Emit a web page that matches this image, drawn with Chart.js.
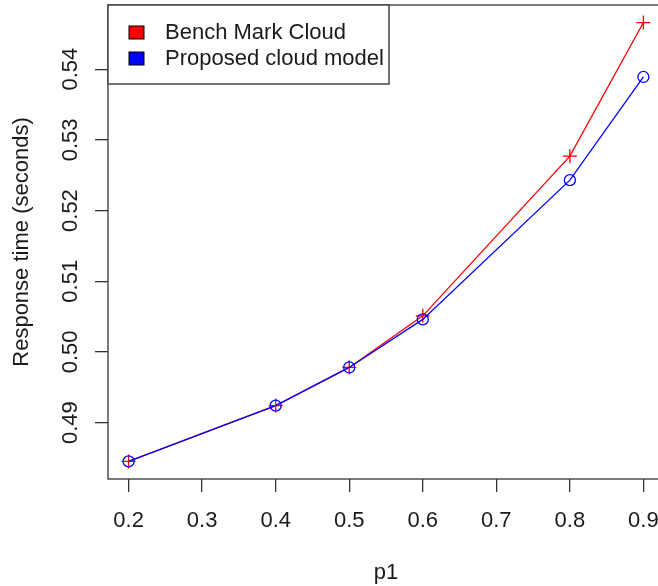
<!DOCTYPE html>
<html>
<head>
<meta charset="utf-8">
<script src="https://cdn.jsdelivr.net/npm/chart.js@4/dist/chart.umd.min.js"></script>
<style>
  html, body { margin: 0; padding: 0; background: #fff; overflow: hidden; }
  #wrap { width: 658px; height: 586px; overflow: hidden; }
  canvas { display: block; }
</style>
</head>
<body>
<div id="wrap"><canvas id="rtChart" width="672" height="586"></canvas></div>
<script>
// Chart data
const p1 = [0.2, 0.4, 0.5, 0.6, 0.8, 0.9];
const benchMark = [0.4845, 0.4924, 0.4978, 0.5051, 0.5277, 0.5466];
const proposed = [0.4845, 0.4924, 0.4978, 0.5046, 0.5243, 0.5389];
const seriesLabels = ['Bench Mark Cloud', 'Proposed cloud model'];
const xTicks = [0.2, 0.3, 0.4, 0.5, 0.6, 0.7, 0.8, 0.9];
const yTicks = [0.49, 0.50, 0.51, 0.52, 0.53, 0.54];

// R style axis range: data range padded by 4% on each side
function rRange(values) {
    const lo = Math.min(...values);
    const hi = Math.max(...values);
    const pad = (hi - lo) * 0.04;
    return { min: lo - pad, max: hi + pad };
}

const xRange = rRange(p1);
const yRange = rRange(benchMark.concat(proposed));

Chart.defaults.font.family = "'Liberation Sans', Arial, sans-serif";
Chart.defaults.color = '#1a1a1a';

// Box around the plot region plus the legend in the top left corner
const boxAndLegend = {
    id: 'boxAndLegend',
    afterDraw(chart) {
        const { ctx, chartArea } = chart;
        ctx.save();
        ctx.strokeStyle = '#333';
        ctx.lineWidth = 1.3;
        ctx.strokeRect(chartArea.left, chartArea.top, chartArea.right - chartArea.left, chartArea.bottom - chartArea.top);

        // legend
        const lx = chartArea.left, ly = chartArea.top;
        ctx.fillStyle = '#fff';
        ctx.fillRect(lx, ly, 281, 79);
        ctx.strokeStyle = '#444';
        ctx.lineWidth = 1.5;
        ctx.strokeRect(lx, ly, 281, 79);
        ctx.font = "22px 'Liberation Sans', Arial, sans-serif";
        ctx.textBaseline = 'middle';
        chart.data.datasets.forEach((ds, i) => {
            const cy = ly + 27.5 + i * 26;
            ctx.fillStyle = ds.borderColor;
            ctx.fillRect(lx + 21, cy - 6.5, 15, 13);
            ctx.strokeStyle = '#000';
            ctx.lineWidth = 1;
            ctx.strokeRect(lx + 21, cy - 6.5, 15, 13);
            ctx.fillStyle = '#1a1a1a';
            ctx.fillText(ds.label, lx + 57, cy);
        });
        ctx.restore();
    }
};

const ctx = document.getElementById('rtChart').getContext('2d');
const rtChart = new Chart(ctx, {
    type: 'line',
    data: {
        datasets: [{
            label: seriesLabels[0],
            data: p1.map((x, i) => ({ x: x, y: benchMark[i] })),
            borderColor: '#ff0000',
            borderWidth: 1.3,
            pointStyle: 'cross',
            pointRadius: 7,
            pointBorderWidth: 1.3,
            pointBorderColor: '#ff0000',
            tension: 0,
            fill: false,
            clip: false,
            order: 1
        }, {
            label: seriesLabels[1],
            data: p1.map((x, i) => ({ x: x, y: proposed[i] })),
            borderColor: '#0000ff',
            borderWidth: 1.3,
            pointStyle: 'circle',
            pointRadius: 5.5,
            pointBorderWidth: 1.3,
            pointBorderColor: '#0000ff',
            pointBackgroundColor: 'rgba(0,0,0,0)',
            tension: 0,
            fill: false,
            clip: false,
            order: 0
        }]
    },
    options: {
        responsive: false,
        animation: false,
        // canvas is wider than the page: the plot region runs past the right edge, as in the original
        layout: { autoPadding: false, padding: { top: 5, right: 8, left: 0, bottom: 0 } },
        plugins: {
            legend: { display: false },
            tooltip: { enabled: false }
        },
        scales: {
            x: {
                type: 'linear',
                min: xRange.min,
                max: xRange.max,
                afterBuildTicks: (scale) => { scale.ticks = xTicks.map(v => ({ value: v })); },
                afterFit: (scale) => {
                    scale.height = 107;
                    scale.paddingLeft = 0;
                    scale.paddingRight = 0;
                },
                border: { display: false },
                grid: { display: true, drawOnChartArea: false, drawTicks: true, tickLength: 13, color: '#333', lineWidth: 1.3 },
                ticks: {
                    font: { size: 22 },
                    padding: 16,
                    maxRotation: 0,
                    callback: (v) => v.toFixed(1)
                },
                title: { display: true, text: 'p1', font: { size: 22 }, padding: { top: 0, bottom: 0 } }
            },
            y: {
                type: 'linear',
                min: yRange.min,
                max: yRange.max,
                afterBuildTicks: (scale) => { scale.ticks = yTicks.map(v => ({ value: v })); },
                afterFit: (scale) => {
                    scale.width = 108;
                    scale.paddingTop = 0;
                    scale.paddingBottom = 0;
                },
                border: { display: false },
                grid: { display: true, drawOnChartArea: false, drawTicks: true, tickLength: 13, color: '#333', lineWidth: 1.3 },
                ticks: {
                    font: { size: 22 },
                    padding: 3,
                    minRotation: 90,
                    maxRotation: 90,
                    crossAlign: 'center',
                    callback: (v) => v.toFixed(2)
                },
                title: { display: true, text: 'Response time (seconds)', font: { size: 22 }, padding: { top: 9, bottom: 0 } }
            }
        }
    },
    plugins: [boxAndLegend]
});
</script>
</body>
</html>
